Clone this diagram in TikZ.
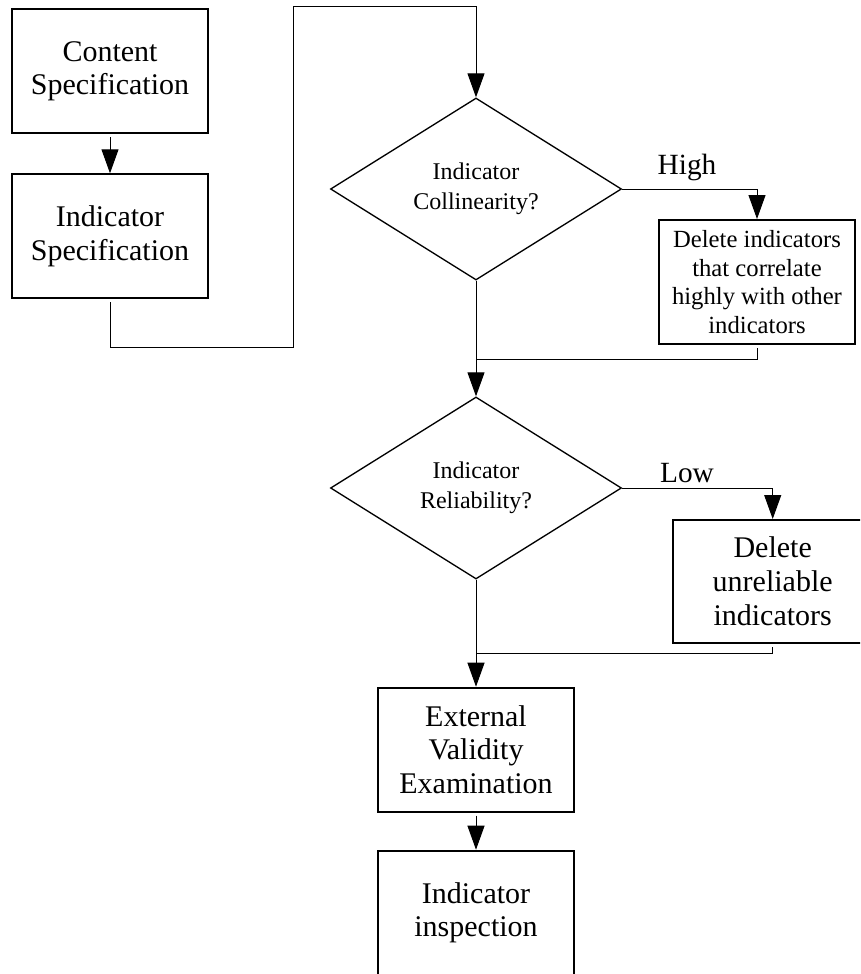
\documentclass[tikz,border=0pt]{standalone}
\usepackage{fontspec}
\setmainfont{Liberation Serif}
\usetikzlibrary{shapes.geometric,arrows.meta}

\tikzset{every picture/.style={line width=0.75pt}}
\tikzset{
  procbox/.style={draw, line width=1.5pt, minimum width=147pt, minimum height=93pt, inner sep=0pt, align=center, font=\fontsize{22.5}{25}\selectfont},
  decision/.style={draw, diamond, aspect=1.6, line width=1pt, minimum width=218.25pt, minimum height=136.5pt, inner sep=0pt, align=center, font=\fontsize{18}{22.5}\selectfont},
  branchlabel/.style={inner sep=0pt, font=\fontsize{22}{24}\selectfont},
  flowline/.style={line width=0.75pt},
  flowarrow/.style={line width=0.75pt, -{Triangle[length=18pt,width=12.75pt]}},
}

\begin{document}
\begin{tikzpicture}[x=0.75pt,y=0.75pt,yscale=-1,xscale=1]
\useasboundingbox (0,0) rectangle (860,974);
\clip (0,0) rectangle (860,974);

%Shape: Rectangle
\node[procbox] (content) at (110,71) {Content\\Specification};
%Shape: Rectangle
\node[procbox] (indspec) at (110,236.3) {Indicator\\Specification};

%Shape: Diamond
\node[decision] (collin) at (476,189) {Indicator\\Collinearity?};
%Shape: Rectangle
\node[procbox, font=\fontsize{18.5}{21.3}\selectfont] (delcoll) at (757,282) {Delete indicators\\that correlate\\highly with other\\indicators};

%Shape: Diamond
\node[decision] (reliab) at (476,488) {Indicator\\Reliability?};
%Shape: Rectangle
\node[procbox, minimum width=150pt, minimum height=92.25pt, font=\fontsize{22.5}{25.5}\selectfont] (delrel) at (772.7,581.5) {Delete\\unreliable\\indicators};

%Shape: Rectangle
\node[procbox] (extval) at (476,749.7) {External\\Validity\\Examination};
%Shape: Rectangle
\node[procbox] (inspect) at (476,912.7) {Indicator\\inspection};

% Text Node
\node[branchlabel] (high) at (687,167) {High};
% Text Node
\node[branchlabel] (low) at (687,473) {Low};

\coordinate (loopbot) at (293,347);
\coordinate (looptop) at (293,7);
\coordinate (joinhigh) at (476,359);
\coordinate (joinlow) at (476,653.3);

%Straight Lines
\draw[flowarrow, shorten <=2.25pt] (content.south) -- (indspec.north);
\draw[flowarrow, shorten <=2.25pt] (indspec.south) |- (loopbot) -- (looptop) -| (collin.north);
%Straight Lines
\draw[flowarrow] (collin.east) -| (delcoll.north);
\draw[flowarrow] (collin.south) -- (reliab.north);
\draw[flowline, shorten <=2.25pt] (delcoll.south) |- (joinhigh);
%Straight Lines
\draw[flowarrow] (reliab.east) -| (delrel.north);
\draw[flowarrow] (reliab.south) -- (extval.north);
\draw[flowline, shorten <=2.25pt] (delrel.south) |- (joinlow);
%Straight Lines
\draw[flowarrow, shorten <=2.25pt] (extval.south) -- (inspect.north);
\end{tikzpicture}
\end{document}
